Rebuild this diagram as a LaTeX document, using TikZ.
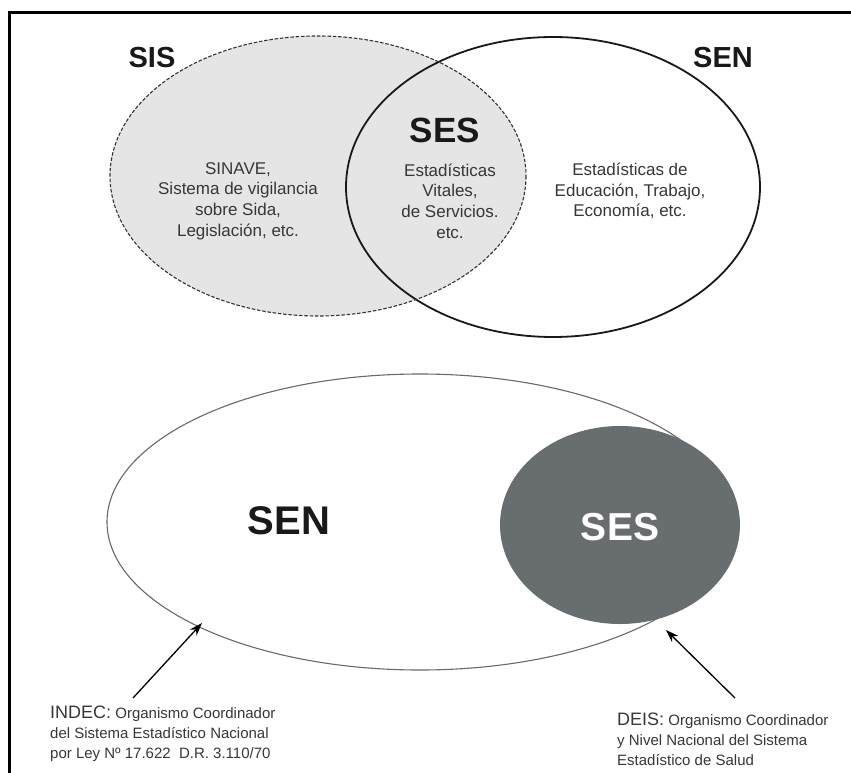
\documentclass[tikz,border=0pt]{standalone}
\usepackage{fontspec}
\setmainfont{Liberation Sans}
\usetikzlibrary{arrows.meta}
\definecolor{txt}{RGB}{55,55,55}
\definecolor{lbl}{RGB}{25,25,25}
\definecolor{sisfill}{RGB}{229,229,229}
\definecolor{slate}{RGB}{104,109,112}
\definecolor{rim}{RGB}{105,105,105}
\begin{document}
\begin{tikzpicture}[x=1pt,y=-1pt,
  biglabel/.style={font=\fontsize{29}{30}\selectfont\bfseries, text=lbl, inner sep=0pt},
  body/.style={font=\fontsize{17}{20.7}\selectfont, text=txt, align=center, inner sep=0pt},
  note/.style={font=\fontsize{15}{20}\selectfont, text=txt, align=left, anchor=north west, inner sep=0pt},
  pointer/.style={-{Stealth[length=13pt,width=9pt]}, line width=1.3pt, black}]
\useasboundingbox (0,0) rectangle (851,773);
\fill[white] (0,0) rectangle (851,773);
% page frame (top and left edges)
\draw[line width=3pt] (9,776) -- (9,13) -- (854,13);

% ---- upper Venn diagram ----
\fill[sisfill] (318,176) ellipse [x radius=208, y radius=140];
\draw[line width=1.8pt, black!90] (553,187) ellipse [x radius=207, y radius=150];
\draw[line width=1.1pt, black!80, dash pattern=on 3.5pt off 1.8pt] (318,176) ellipse [x radius=208, y radius=140];

\node[biglabel] (sis) at (152,58) {SIS};
\node[biglabel] (sen) at (723,58) {SEN};
\node[biglabel, font=\fontsize{35}{36}\selectfont\bfseries] (ses) at (445,130) {SES};

\node[body] (sinave) at (238,201) {SINAVE,\\Sistema de vigilancia\\sobre Sida,\\Legislación, etc.};
\node[body] (vitales) at (450,201) {Estadísticas\\Vitales,\\de Servicios.\\etc.};
\node[body] (otras) at (630,191) {Estadísticas de\\Educación, Trabajo,\\Economía, etc.};

% ---- lower diagram ----
\draw[line width=1.1pt, rim] (420,522) ellipse [x radius=313, y radius=148];
\fill[slate] (620,525) ellipse [x radius=120, y radius=99];

\node[biglabel, font=\fontsize{40}{42}\selectfont\bfseries] (senbig) at (289,521) {SEN};
\node[biglabel, font=\fontsize{39}{40}\selectfont\bfseries, text=white] (sesbig) at (620,527) {SES};

\node[note] (indec) at (50,706) {{\fontsize{18}{20}\selectfont INDEC:} Organismo Coordinador\\del Sistema Estadístico Nacional\\por Ley Nº 17.622\ \ D.R. 3.110/70};
\node[note] (deis) at (617,713) {{\fontsize{18}{20}\selectfont DEIS:} Organismo Coordinador\\y Nivel Nacional del Sistema\\Estadístico de Salud};

\coordinate (indectail) at (133,698);
\coordinate (indectip) at (202,623);
\coordinate (deistail) at (735,698);
\coordinate (deistip) at (666,630);
\draw[pointer] (indectail) -- (indectip);
\draw[pointer] (deistail) -- (deistip);
\end{tikzpicture}
\end{document}
